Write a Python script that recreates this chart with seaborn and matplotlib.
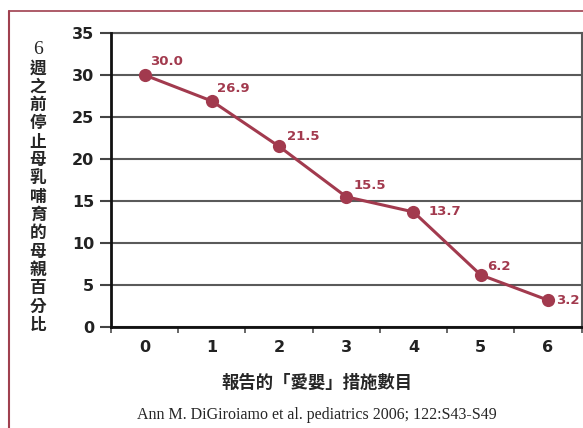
import matplotlib
matplotlib.use("Agg")
import matplotlib.pyplot as plt
from matplotlib.lines import Line2D
import seaborn as sns
import pandas as pd

# 資料
steps = [0, 1, 2, 3, 4, 5, 6]
pct = [30.0, 26.9, 21.5, 15.5, 13.7, 6.2, 3.2]
ylabel_chars = ["6", "週", "之", "前", "停", "止", "母", "乳", "哺", "育", "的", "母", "親", "百", "分", "比"]
xlabel = "報告的「愛嬰」措施數目"
cite = "Ann M. DiGiroiamo et al. pediatrics 2006; 122:S43-S49"

# 標籤位移 (points)
offsets = [(4, 10), (4, 9), (6, 7), (5, 8), (11, 0), (5, 6), (6, 0)]

sns.set_style("white", {"ytick.left": True, "xtick.bottom": True})
plt.rcParams["font.family"] = ["DejaVu Sans"]
cjk = ["Noto Sans CJK TC", "DejaVu Sans"]

red = "#a23a4e"
gridc = "#5a5a5a"

fig = plt.figure(figsize=(5.83, 4.28), dpi=100)
ax = fig.add_axes([111 / 583, 1 - 327 / 428, (581.5 - 111) / 583, (327 - 33) / 428])

df = pd.DataFrame({"steps": steps, "pct": pct})
sns.lineplot(data=df, x="steps", y="pct", ax=ax, color=red, lw=2.2,
             marker="o", markersize=9.5, markeredgewidth=0, zorder=3)

for x, y, (dx, dy) in zip(steps, pct, offsets):
    ax.annotate(f"{y:.1f}", (x, y), xytext=(dx, dy), textcoords="offset points",
                ha="left", va="center", color=red, fontsize=9.5, fontweight="bold")

ax.set_xlim(-0.5, 6.5)
ax.set_ylim(0, 35)
ax.set_yticks(range(0, 36, 5))
ax.set_xticks(steps)
ax.set_xticks([s - 0.5 for s in steps] + [6.5], minor=True)
ax.tick_params(axis="x", which="major", bottom=True, length=0, pad=9, labelsize=11.5, labelcolor="#222222")
ax.tick_params(axis="x", which="minor", bottom=True, length=4.5, width=1.3, color=gridc, direction="out")
ax.tick_params(axis="y", which="major", left=True, direction="out", length=8, width=1.5,
               color="#444444", pad=4, labelsize=11.5, labelcolor="#222222")
for lab in ax.get_xticklabels() + ax.get_yticklabels():
    lab.set_fontweight("bold")

ax.yaxis.grid(True, color=gridc, lw=1.5)
ax.set_xlabel("")
ax.set_ylabel("")
for side in ["left", "bottom"]:
    ax.spines[side].set_color("#111111")
    ax.spines[side].set_linewidth(2)
    ax.spines[side].set_zorder(4)
ax.spines["top"].set_color(gridc)
ax.spines["top"].set_linewidth(1.5)
ax.spines["right"].set_color(gridc)
ax.spines["right"].set_linewidth(1.5)
ax.yaxis.set_zorder(0.5)
ax.xaxis.set_zorder(0.5)
for t in ax.yaxis.get_major_ticks():
    t.tick1line.set_visible(True)
    t.tick1line.set_color("#444444")

# 直書 y 軸標題
y0, step = 50, 18.33
for i, ch in enumerate(ylabel_chars):
    fig.text(38 / 583, 1 - (y0 + i * step) / 428, ch, ha="center", va="center",
             fontsize=14 if i == 0 else 12, fontweight="normal" if i == 0 else "bold",
             family=["Liberation Serif"] if i == 0 else cjk)

fig.text(317 / 583, 1 - 383 / 428, xlabel, ha="center", va="center",
         fontsize=12.5, fontweight="bold", family=cjk)
fig.text(317 / 583, 1 - 415 / 428, cite, ha="center", va="center",
         fontsize=11.5, family=["Liberation Serif"])

# 外框線
fig.add_artist(Line2D([9 / 583, 9 / 583], [0, 1 - 11 / 428], color="#a0404f", lw=1.5))
fig.add_artist(Line2D([9 / 583, 1], [1 - 11 / 428, 1 - 11 / 428], color="#a0404f", lw=1.2))

fig.savefig("out.png", dpi=100)
